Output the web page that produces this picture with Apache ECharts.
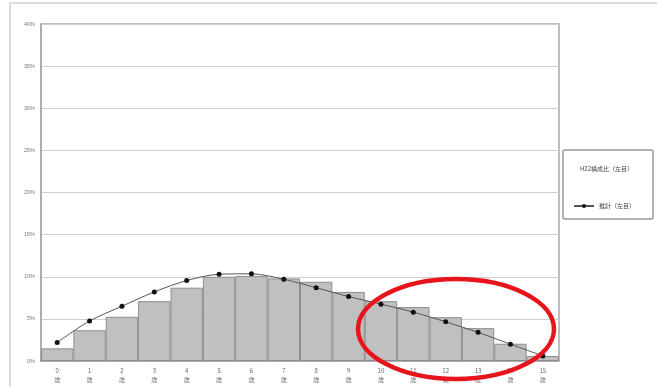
<!DOCTYPE html>
<html>
<head>
<meta charset="utf-8">
<script src="https://cdn.jsdelivr.net/npm/echarts@6/dist/echarts.min.js"></script>
<style>html,body{margin:0;padding:0;background:#fff;}#c{width:657px;height:387px;}</style>
</head>
<body>
<div id="c"></div>
<script>
const categories = ['0','1','2','3','4','5','6','7','8','9','10','11','12','13','14','15'];
const barValues = [1.5, 3.65, 5.25, 7.1, 8.7, 10.0, 10.1, 9.8, 9.4, 8.2, 7.1, 6.4, 5.2, 3.9, 2.05, 0.6];
const lineValues = [2.2, 4.75, 6.5, 8.2, 9.55, 10.3, 10.35, 9.7, 8.7, 7.65, 6.75, 5.8, 4.65, 3.4, 2.0, 0.6];
const barName = 'H22構成比（左目）';
const lineName = '推計（左目）';
const unitLabel = '歳';

const legendText = {fontSize: 6, color: '#444', fontFamily: 'Noto Sans CJK JP'};
const chart = echarts.init(document.getElementById('c'), null, {renderer: 'canvas'});
chart.setOption({
  animation: false,
  backgroundColor: '#fff',
  graphic: [
    {type: 'rect', shape: {x: 10, y: 3, width: 660, height: 400}, style: {fill: 'none', stroke: '#dcdcdc', lineWidth: 2}, z: -10},
    {type: 'rect', shape: {x: 563, y: 150, width: 90, height: 69, r: 2}, style: {fill: '#fff', stroke: '#9a9a9a', lineWidth: 1.5}, z: -5},
    {type: 'ellipse', shape: {cx: 456, cy: 329, rx: 98, ry: 50}, style: {fill: 'none', stroke: '#e8141b', lineWidth: 4.5}, z: 100}
  ],
  grid: {left: 41, right: 98, top: 24, bottom: 26, show: true, borderColor: '#a8a8a8', borderWidth: 1.5},
  legend: [
    {
      left: 574, top: 166, padding: 0,
      itemWidth: 0, itemHeight: 0, itemGap: 0,
      textStyle: legendText,
      data: [barName]
    },
    {
      left: 573, top: 203, padding: 0,
      itemWidth: 20, itemHeight: 5,
      textStyle: legendText,
      data: [lineName]
    }
  ],
  xAxis: {
    type: 'category', data: categories, boundaryGap: true,
    axisLine: {lineStyle: {color: '#a0a0a0', width: 1.5}},
    axisTick: {show: false},
    axisLabel: {
      fontSize: 6, color: '#666', lineHeight: 9, margin: 5,
      fontFamily: 'Noto Sans CJK JP',
      formatter: v => v + '\n' + unitLabel
    }
  },
  yAxis: {
    type: 'value', min: 0, max: 40, interval: 5,
    axisLine: {show: true, lineStyle: {color: '#a8a8a8', width: 1.5}},
    axisTick: {show: false},
    splitLine: {lineStyle: {color: '#d0d0d0', width: 1}},
    axisLabel: {fontSize: 5.5, color: '#777', margin: 6, formatter: '{value}%'}
  },
  series: [
    {
      name: barName, type: 'bar', data: barValues, barCategoryGap: 0,
      itemStyle: {color: '#c0c0c0', borderColor: '#8c8c8c', borderWidth: 1}
    },
    {
      name: lineName, type: 'line', data: lineValues, smooth: 0.3,
      symbol: 'circle', symbolSize: 5,
      lineStyle: {color: '#555', width: 1},
      itemStyle: {color: '#111'}, z: 5
    }
  ]
});
</script>
</body>
</html>
